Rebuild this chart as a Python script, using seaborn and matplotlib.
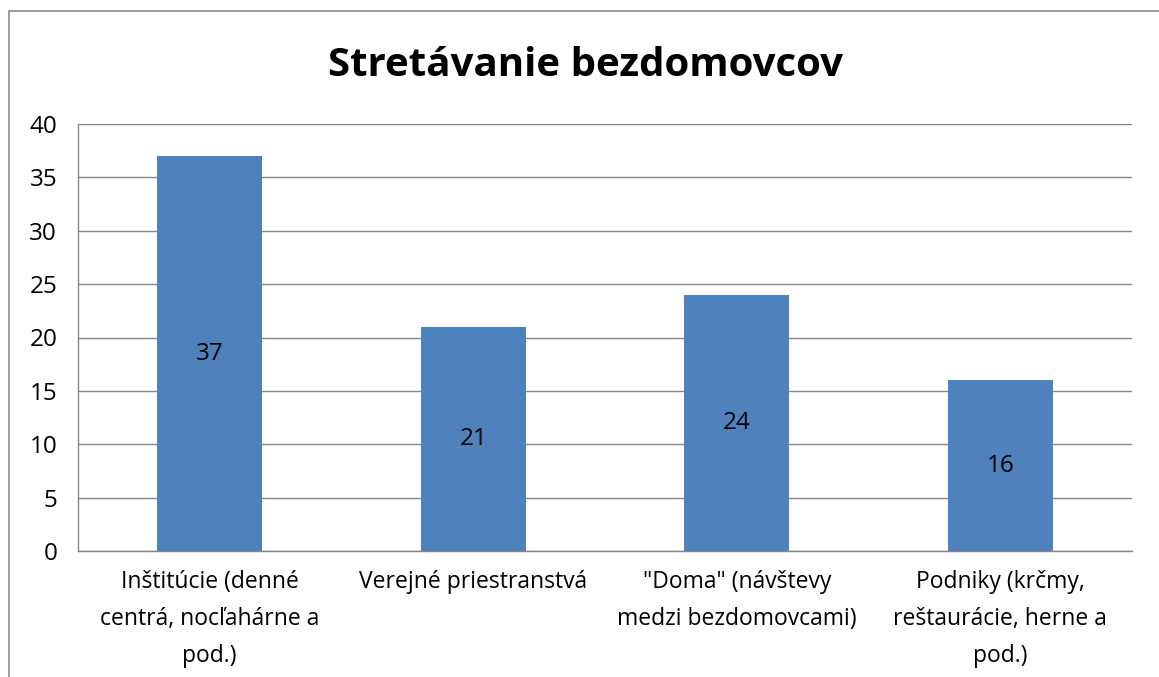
import matplotlib
matplotlib.use("Agg")
import matplotlib.pyplot as plt
import seaborn as sns
import pandas as pd
from matplotlib.lines import Line2D

categories = ["Inštitúcie (denné\ncentrá, nocľahárne a\npod.)",
              "Verejné priestranstvá",
              "\"Doma\" (návštevy\nmedzi bezdomovcami)",
              "Podniky (krčmy,\nreštaurácie, herne a\npod.)"]
values = [37, 21, 24, 16]
yticks = [0, 5, 10, 15, 20, 25, 30, 35, 40]

sns.set_style("white")
plt.rcParams['font.family'] = ['Open Sans', 'DejaVu Sans']
plt.rcParams['text.color'] = 'black'
plt.rcParams['xtick.color'] = 'black'
plt.rcParams['ytick.color'] = 'black'

df = pd.DataFrame({"cat": categories, "val": values})

fig = plt.figure(figsize=(11.59, 6.77), dpi=100)
ax = fig.add_axes([78/1159, 1 - 551/677, (1132 - 78)/1159, (551 - 124)/677])

sns.barplot(data=df, x="cat", y="val", color="#4F81BD", saturation=1,
            width=0.4, ax=ax, zorder=3, linewidth=0)

ax.set_ylim(0, 40)
ax.set_xlim(-0.5, 3.5)
ax.set_yticks(yticks)
ax.yaxis.grid(True, color="#868686", linewidth=1, zorder=0)
ax.set_axisbelow(True)
for s in ["top", "right"]:
    ax.spines[s].set_visible(False)
for s in ["left", "bottom"]:
    ax.spines[s].set_color("#868686")
    ax.spines[s].set_linewidth(1)

# category boundary ticks
ax.set_xticks([-0.5, 0.5, 1.5, 2.5, 3.5], minor=True)
ax.tick_params(axis="x", which="minor", length=6, color="#868686", width=1, direction="out")
ax.tick_params(axis="x", which="major", length=0, labelsize=16.5, pad=14)
ax.tick_params(axis="y", length=6, color="#868686", width=1, direction="out",
               labelsize=17.5, labelcolor="black", pad=9)
for lab in ax.get_xticklabels():
    lab.set_linespacing(1.72)
ax.set_xlabel("")
ax.set_ylabel("")

for i, v in enumerate(values):
    ax.text(i, v / 2, str(v), ha="center", va="center", fontsize=17.5, color="black", zorder=4)

fig.text(0.505, 1 - 66/677, "Stretávanie bezdomovcov", ha="center", va="center",
         fontsize=29, fontweight="bold", color="black")

# outer chart border (left and top visible)
fig.add_artist(Line2D([9/1159, 9/1159], [0, 1 - 11/677], color="#8c8c8c", linewidth=1.2))
fig.add_artist(Line2D([9/1159, 1], [1 - 11/677, 1 - 11/677], color="#8c8c8c", linewidth=1.2))

fig.savefig("out.png", dpi=100)
